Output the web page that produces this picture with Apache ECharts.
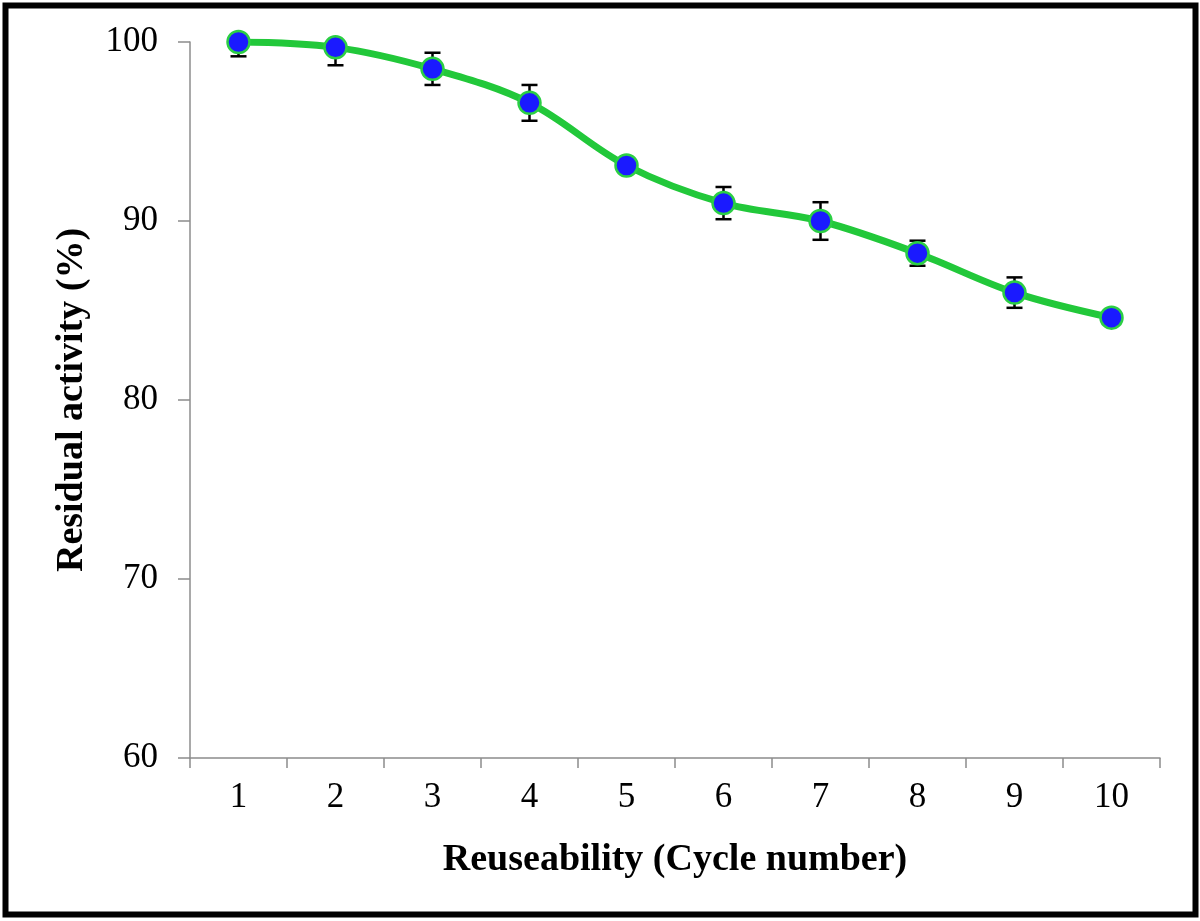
<!DOCTYPE html>
<html>
<head>
<meta charset="utf-8">
<script src="https://cdn.jsdelivr.net/npm/echarts@6/dist/echarts.min.js"></script>
<style>html,body{margin:0;padding:0;background:#fff}#c{width:1200px;height:921px}</style>
</head>
<body>
<div id="c"></div>
<script>
const categories = ['1','2','3','4','5','6','7','8','9','10'];
const activity = [100, 99.7, 98.5, 96.6, 93.1, 91.0, 90.0, 88.2, 86.0, 84.6];
const errors = [0.8, 1.0, 0.9, 1.0, 0.3, 0.9, 1.05, 0.7, 0.85, 0.2];
const yTicks = {min: 60, max: 100, interval: 10};

const errData = activity.map((v, i) => [i, v, errors[i]]);
const chart = echarts.init(document.getElementById('c'));
const font = '"Liberation Serif", "Times New Roman", serif';
chart.setOption({
  animation: false,
  backgroundColor: '#fff',
  grid: {left: 190, right: 40, top: 42, bottom: 163},
  graphic: [{
    type: 'rect', shape: {x: 5.5, y: 5.5, width: 1190, height: 909},
    style: {fill: 'none', stroke: '#000', lineWidth: 6}, z: 100
  }],
  xAxis: {
    type: 'category', data: categories, boundaryGap: true,
    name: 'Reuseability (Cycle number)', nameLocation: 'middle', nameGap: 83,
    nameTextStyle: {fontFamily: font, fontWeight: 'bold', fontSize: 38, color: '#000'},
    axisLine: {lineStyle: {color: '#8c8c8c', width: 1.5}},
    axisTick: {show: true, alignWithLabel: false, length: 10, lineStyle: {color: '#8c8c8c', width: 1.5}},
    axisLabel: {fontFamily: font, fontSize: 35, color: '#000', margin: 22},
    splitLine: {show: false}
  },
  yAxis: {
    type: 'value', min: yTicks.min, max: yTicks.max, interval: yTicks.interval,
    name: 'Residual activity (%)', nameLocation: 'middle', nameGap: 99,
    nameTextStyle: {fontFamily: font, fontWeight: 'bold', fontSize: 38, color: '#000'},
    axisLine: {show: true, lineStyle: {color: '#8c8c8c', width: 1.5}},
    axisTick: {show: true, inside: false, length: 12, lineStyle: {color: '#8c8c8c', width: 1.5}},
    axisLabel: {fontFamily: font, fontSize: 35, color: '#000', margin: 32},
    splitLine: {show: false}
  },
  series: [
    {
      type: 'custom', data: errData, clip: true, z: 1,
      renderItem: function (params, api) {
        const x = api.value(0), v = api.value(1), e = api.value(2);
        const top = api.coord([x, v + e]);
        const bot = api.coord([x, v - e]);
        const hw = 8;
        const st = {stroke: '#000', lineWidth: 2.5};
        return {type: 'group', children: [
          {type: 'line', shape: {x1: top[0], y1: top[1], x2: bot[0], y2: bot[1]}, style: st},
          {type: 'line', shape: {x1: top[0]-hw, y1: top[1], x2: top[0]+hw, y2: top[1]}, style: st},
          {type: 'line', shape: {x1: bot[0]-hw, y1: bot[1], x2: bot[0]+hw, y2: bot[1]}, style: st}
        ]};
      }
    },
    {
      type: 'line', data: activity, smooth: 0.35, z: 2,
      lineStyle: {color: '#22c83a', width: 7},
      symbol: 'circle', symbolSize: 22,
      itemStyle: {color: '#1a1aff', borderColor: '#2ccf44', borderWidth: 2.5}
    }
  ]
});
</script>
</body>
</html>
